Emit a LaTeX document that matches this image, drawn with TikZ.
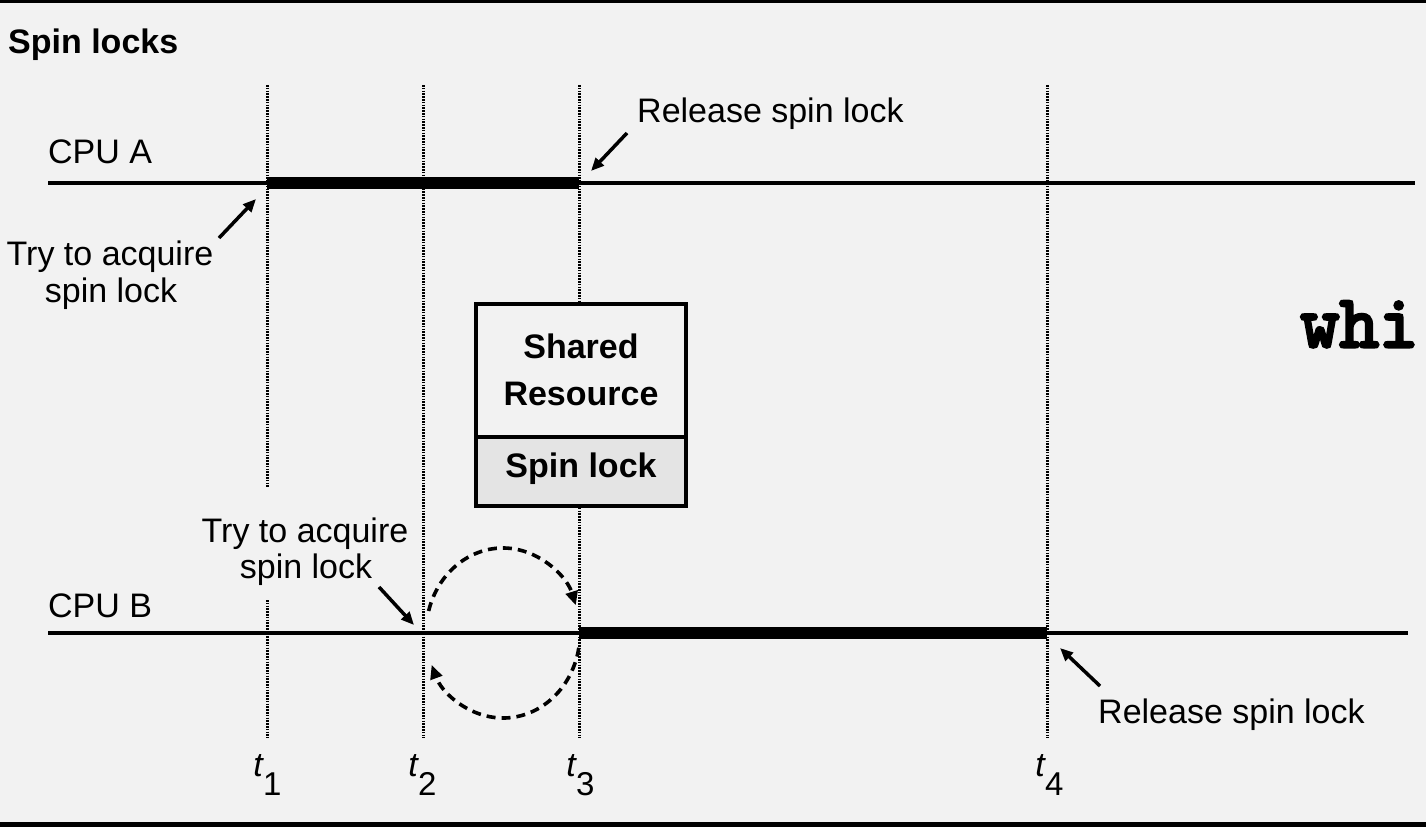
\documentclass[tikz,border=0pt]{standalone}
\usepackage{fontspec}
\setmainfont{Liberation Sans}
\newfontfamily\codefont{lmmono10-regular.otf}[FakeBold=4]
\usetikzlibrary{arrows.meta}
\definecolor{bg}{HTML}{F2F2F2}
\definecolor{lockfill}{HTML}{E4E4E4}
\begin{document}
\begin{tikzpicture}[x=1pt,y=1pt,
  lbl/.style={font=\fontsize{34}{37}\selectfont, inner sep=0pt, anchor=base},
  boldlbl/.style={font=\fontsize{34}{37}\selectfont\bfseries, inner sep=0pt, anchor=base},
  tname/.style={font=\fontsize{34}{37}\selectfont\itshape, inner sep=0pt, anchor=base east},
  tidx/.style={font=\fontsize{33}{37}\selectfont, inner sep=0pt, anchor=base west},
  timeline/.style={line width=4pt},
  holdbar/.style={line width=12pt},
  dotline/.style={line width=3pt, dash pattern=on 1.6pt off 1.2pt},
  ptr/.style={line width=3.5pt, -{Triangle[length=13pt,width=11pt]}},
  spinarc/.style={line width=3.6pt, dash pattern=on 9pt off 6pt, -{Triangle[length=14pt,width=12pt]}},
  boxpart/.style={draw, line width=4pt, minimum width=210, inner sep=0pt},
]
% background and frame
\fill[bg] (0,0) rectangle (1426,-827);
\fill[black] (0,0) rectangle (1426,-3);
\fill[black] (0,-822) rectangle (1426,-827);
\useasboundingbox (0,0) rectangle (1426,-827);

% title
\node[boldlbl, anchor=base west] (title) at (8,-53) {Spin locks};

% vertical time markers
\coordinate (v1t) at (267,-85);  \coordinate (v1m) at (267,-488);
\coordinate (v1n) at (267,-600); \coordinate (v1b) at (267,-738);
\coordinate (v2t) at (423,-85);  \coordinate (v2b) at (423,-738);
\coordinate (v3t) at (579,-85);  \coordinate (v3b) at (579,-738);
\coordinate (v4t) at (1047,-85); \coordinate (v4b) at (1047,-738);
\draw[dotline] (v1t) -- (v1m);
\draw[dotline] (v1n) -- (v1b);
\draw[dotline] (v2t) -- (v2b);
\draw[dotline] (v3t) -- (v3b);
\draw[dotline] (v4t) -- (v4b);

% CPU A timeline
\coordinate (a0) at (48,-183);  \coordinate (a1) at (1415,-183);
\coordinate (aS) at (267,-183); \coordinate (aE) at (579,-183);
\draw[timeline] (a0) -- (a1);
\draw[holdbar] (aS) -- (aE);
\node[lbl, anchor=base west] (cpua) at (48,-163) {CPU A};

% CPU B timeline
\coordinate (b0) at (48,-633);  \coordinate (b1) at (1408,-633);
\coordinate (bS) at (579,-633); \coordinate (bE) at (1047,-633);
\draw[timeline] (b0) -- (b1);
\draw[holdbar] (bS) -- (bE);
\node[lbl, anchor=base west] (cpub) at (48,-617) {CPU B};

% shared resource box
\node[boxpart, fill=bg, minimum height=133] (res) at (581,-370.5) {};
\node[boxpart, fill=lockfill, minimum height=69] (lock) at (581,-471.5) {};
\node[boldlbl] (shared) at (581,-358) {Shared};
\node[boldlbl] (resource) at (581,-405) {Resource};
\node[boldlbl] (spinlock) at (581,-477) {Spin lock};

% labels
\node[lbl] (acqA1) at (110,-265) {Try to acquire};
\node[lbl] (acqA2) at (111,-302) {spin lock};
\node[lbl, anchor=base west] (relA) at (637,-122) {Release spin lock};
\node[lbl] (acqB1) at (305,-542) {Try to acquire};
\node[lbl] (acqB2) at (306,-578) {spin lock};
\node[lbl, anchor=base west] (relB) at (1098,-723) {Release spin lock};

% pointer arrows
\coordinate (pA1) at (219,-238); \coordinate (pA2) at (256,-199);
\coordinate (pR1) at (627,-133); \coordinate (pR2) at (591,-171);
\coordinate (pB1) at (379,-587); \coordinate (pB2) at (414,-625);
\coordinate (pQ1) at (1100,-686); \coordinate (pQ2) at (1060,-648);
\draw[ptr] (pA1) -- (pA2);
\draw[ptr] (pR1) -- (pR2);
\draw[ptr] (pB1) -- (pB2);
\draw[ptr] (pQ1) -- (pQ2);

% spinning loop
\coordinate (loopc) at (503,-633);
\draw[spinarc] (loopc) ++(165:77 and 85) arc[start angle=165, end angle=19, x radius=77, y radius=85];
\draw[spinarc] (loopc) ++(-10:77 and 85) arc[start angle=-10, end angle=-158, x radius=77, y radius=85];

% time labels
\node[tname] (t1) at (263,-776) {t};  \node[tidx] (t1i) at (263,-795) {1};
\node[tname] (t2) at (418,-776) {t};  \node[tidx] (t2i) at (418,-795) {2};
\node[tname] (t3) at (576,-776) {t};  \node[tidx] (t3i) at (576,-795) {3};
\node[tname] (t4) at (1045,-776) {t}; \node[tidx] (t4i) at (1045,-795) {4};

% cut-off code text
\node[font=\fontsize{75}{75}\selectfont\codefont, inner sep=0pt, anchor=base west] (code) at (1300,-347) {whi};
\end{tikzpicture}
\end{document}
